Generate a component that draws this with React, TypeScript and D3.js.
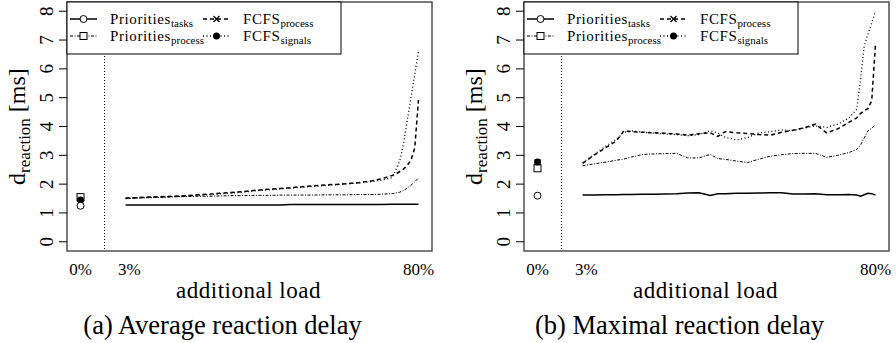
import * as d3 from "d3";

// load values (in %) at which the curves are sampled
const loads = [2, 5, 8, 11, 13, 15, 18, 21, 24, 27, 30, 33, 36, 38, 40, 43, 46, 49, 52, 55, 58, 61, 64, 67, 70, 73, 75, 76, 77, 78, 79, 80];
const xTicks = [
  { pos: -10, label: "0%" },
  { pos: 3, label: "3%" },
  { pos: 80, label: "80%" },
];
const yTicks = [0, 1, 2, 3, 4, 5, 6, 7, 8];

// (a) average reaction delay
const avgTasks = [1.28, 1.28, 1.28, 1.28, 1.28, 1.28, 1.28, 1.28, 1.28, 1.28, 1.28, 1.28, 1.28, 1.28, 1.28, 1.28, 1.29, 1.29, 1.29, 1.29, 1.29, 1.29, 1.29, 1.29, 1.29, 1.3, 1.3, 1.3, 1.3, 1.3, 1.3, 1.3];
const avgPrioProcess = [1.5, 1.52, 1.53, 1.54, 1.55, 1.56, 1.57, 1.58, 1.58, 1.59, 1.6, 1.6, 1.61, 1.61, 1.61, 1.62, 1.62, 1.62, 1.62, 1.63, 1.63, 1.63, 1.64, 1.64, 1.65, 1.67, 1.72, 1.78, 1.86, 1.96, 2.08, 2.22];
const avgFcfsProcess = [1.52, 1.53, 1.55, 1.56, 1.57, 1.58, 1.6, 1.63, 1.65, 1.68, 1.71, 1.74, 1.78, 1.8, 1.82, 1.85, 1.88, 1.91, 1.94, 1.97, 1.99, 2.02, 2.05, 2.1, 2.18, 2.3, 2.43, 2.52, 2.65, 2.83, 3.25, 4.92];
const avgFcfsSignals = [1.5, 1.52, 1.54, 1.55, 1.56, 1.57, 1.59, 1.61, 1.63, 1.66, 1.69, 1.72, 1.76, 1.78, 1.8, 1.83, 1.86, 1.89, 1.92, 1.95, 1.98, 2.01, 2.04, 2.08, 2.14, 2.22, 2.8, 3.4, 4.2, 5.0, 5.8, 6.6];
const avgZero = [1.25, 1.55, 1.5, 1.45]; // tasks, prio process, fcfs process, fcfs signals at 0%

// (b) maximal reaction delay
const maxTasks = [1.62, 1.62, 1.63, 1.63, 1.64, 1.64, 1.65, 1.65, 1.66, 1.67, 1.69, 1.7, 1.61, 1.67, 1.67, 1.68, 1.68, 1.69, 1.7, 1.7, 1.66, 1.66, 1.67, 1.63, 1.63, 1.64, 1.62, 1.58, 1.63, 1.68, 1.67, 1.62];
const maxPrioProcess = [2.64, 2.7, 2.76, 2.83, 2.87, 2.94, 3.03, 3.05, 3.06, 3.07, 2.91, 2.91, 3.03, 2.89, 2.86, 2.8, 2.75, 2.87, 2.97, 3.02, 3.06, 3.07, 3.07, 2.93, 3.0, 3.1, 3.2, 3.35, 3.6, 3.85, 3.95, 4.05];
const maxFcfsProcess = [2.72, 3.0, 3.25, 3.5, 3.85, 3.82, 3.8, 3.78, 3.77, 3.74, 3.7, 3.75, 3.78, 3.66, 3.82, 3.78, 3.76, 3.72, 3.7, 3.8, 3.87, 3.95, 4.08, 3.78, 3.92, 4.15, 4.3, 4.45, 4.55, 4.62, 4.9, 6.85];
const maxFcfsSignals = [2.75, 3.02, 3.3, 3.55, 3.8, 3.85, 3.8, 3.77, 3.74, 3.72, 3.68, 3.72, 3.85, 3.78, 3.62, 3.53, 3.62, 3.78, 3.82, 3.88, 3.86, 3.95, 4.02, 3.97, 4.08, 4.3, 4.6, 5.6, 6.8, 7.2, 7.6, 8.0];
const maxZero = [1.6, 2.55, 2.75, 2.77];

const legendNames = [
  { main: "Priorities", sub: "tasks" },
  { main: "Priorities", sub: "process" },
  { main: "FCFS", sub: "process" },
  { main: "FCFS", sub: "signals" },
];

const SERIF = "Liberation Serif, DejaVu Serif, serif";

// line style per series
const styles = [
  { dash: "none", width: 1.5 },
  { dash: "3 1.5 1 1.5", width: 1 },
  { dash: "4 3", width: 1.5 },
  { dash: "1 2.5", width: 1.3 },
];

function Marker({ kind, x, y }: { kind: number; x: number; y: number }) {
  if (kind === 0) return <circle cx={x} cy={y} r={3.5} fill="white" stroke="#000" strokeWidth={1} />;
  if (kind === 1) return <rect x={x - 3.5} y={y - 3.5} width={7} height={7} fill="white" stroke="#000" strokeWidth={1} />;
  if (kind === 2)
    return (
      <g stroke="#000" strokeWidth={1.3}>
        <line x1={x - 3} y1={y - 3} x2={x + 3} y2={y + 3} />
        <line x1={x - 3} y1={y + 3} x2={x + 3} y2={y - 3} />
      </g>
    );
  return <circle cx={x} cy={y} r={3.5} fill="#000" />;
}

function Panel({ dx, series, zero, caption }: { dx: number; series: number[][]; zero: number[]; caption: string }) {
  const left = 67, right = 432, top = 2, bottom = 251;
  const x = d3.scaleLinear().domain([-13.6, 83.6]).range([left, right]);
  const y = d3.scaleLinear().domain([-0.32, 8.32]).range([bottom, top]);
  const line = d3.line<number>().x((_, i) => x(loads[i])).y((d) => y(d));
  const midY = (top + bottom) / 2;
  const zeroOrder = [2, 1, 3, 0];

  return (
    <g transform={`translate(${dx},0)`} fill="#000">
      {/* separator between 0% baseline and loaded runs */}
      <line x1={x(-3.6)} x2={x(-3.6)} y1={top} y2={bottom} stroke="#000" strokeWidth={1} strokeDasharray="1 2" />

      {series.map((s, k) => (
        <path key={k} d={line(s) || ""} fill="none" stroke="#000" strokeWidth={styles[k].width}
          strokeDasharray={styles[k].dash === "none" ? undefined : styles[k].dash} />
      ))}

      {zeroOrder.map((k) => (
        <Marker key={k} kind={k} x={x(-10)} y={y(zero[k])} />
      ))}

      <rect x={left} y={top} width={right - left} height={bottom - top} fill="none" stroke="#444" strokeWidth={1.4} />

      {/* y axis */}
      {yTicks.map((t) => (
        <g key={t} transform={`translate(0,${y(t)})`}>
          <line x1={left - 8} x2={left} y1={0} y2={0} stroke="#000" strokeWidth={1} />
          <g transform="translate(53,0) rotate(-90)">
            <text x={0} y={0} textAnchor="middle" style={{ fontSize: 19 }}>{t}</text>
          </g>
        </g>
      ))}
      <g transform={`translate(25,${midY}) rotate(-90)`}>
        <text textAnchor="middle" style={{ fontSize: 24 }}>
          <tspan>d</tspan>
          <tspan dy={5} style={{ fontSize: 17 }}>reaction</tspan>
          <tspan dy={-5}> [ms]</tspan>
        </text>
      </g>

      {/* x axis */}
      {xTicks.map((t) => (
        <text key={t.label} x={x(t.pos)} y={275} textAnchor="middle" style={{ fontSize: 17 }}>{t.label}</text>
      ))}
      <text x={(left + right) / 2 - 1} y={298} textAnchor="middle" style={{ fontSize: 23, letterSpacing: 0.5 }}>additional load</text>
      <text x={(left + right) / 2 - 27} y={334} textAnchor="middle" style={{ fontSize: 26.5 }}>{caption}</text>

      {/* legend */}
      <rect x={left} y={top} width={274} height={52} fill="white" stroke="#000" strokeWidth={1} />
      {legendNames.map((n, k) => {
        const col = k < 2 ? 0 : 1;
        const row = k % 2;
        const cy = row === 0 ? 19 : 36;
        const lx = col === 0 ? 70 : 203;
        const tx = col === 0 ? 110 : 243;
        return (
          <g key={k}>
            <line x1={lx} x2={lx + 27} y1={cy} y2={cy} stroke="#000" strokeWidth={styles[k].width}
              strokeDasharray={styles[k].dash === "none" ? undefined : styles[k].dash} />
            <Marker kind={k} x={lx + 13.5} y={cy} />
            <text x={tx} y={cy + 5} style={{ fontSize: 15, letterSpacing: 0.6 }}>
              {n.main}
              <tspan dy={3} style={{ fontSize: 11, letterSpacing: 0 }}>{n.sub}</tspan>
            </text>
          </g>
        );
      })}
    </g>
  );
}

export default function App() {
  return (
    <svg width={896} height={343}
      style={{ position: "absolute", left: 0, top: 0, background: "white", fontFamily: SERIF }}>
      <rect width={896} height={343} fill="white" />
      <Panel dx={0} series={[avgTasks, avgPrioProcess, avgFcfsProcess, avgFcfsSignals]} zero={avgZero}
        caption="(a) Average reaction delay" />
      <Panel dx={457} series={[maxTasks, maxPrioProcess, maxFcfsProcess, maxFcfsSignals]} zero={maxZero}
        caption="(b) Maximal reaction delay" />
    </svg>
  );
}
